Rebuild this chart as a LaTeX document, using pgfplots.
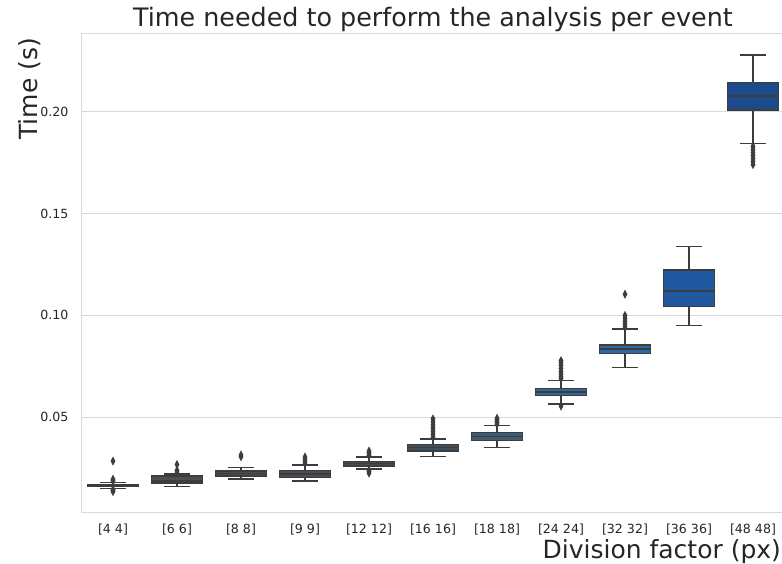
\documentclass[border=0pt]{standalone}
\usepackage{pgfplots}
\pgfplotsset{compat=1.18}
\usepgfplotslibrary{statistics}
\usepackage{fontspec}
\setmainfont{DejaVu Sans}
\definecolor{gridc}{HTML}{D9D9D9}
\definecolor{textc}{HTML}{262626}
\definecolor{linec}{HTML}{3D3D3D}
\definecolor{c0}{HTML}{505050}
\definecolor{c1}{HTML}{4E4F51}
\definecolor{c2}{HTML}{4A4D50}
\definecolor{c3}{HTML}{474D53}
\definecolor{c4}{HTML}{444B52}
\definecolor{c5}{HTML}{3F505F}
\definecolor{c6}{HTML}{3D5C76}
\definecolor{c7}{HTML}{346899}
\definecolor{c8}{HTML}{2C68A5}
\definecolor{c9}{HTML}{2159A0}
\definecolor{c10}{HTML}{1C4A8C}
\pgfplotsset{bx/.style={draw=linec, line width=0.75pt, solid, mark=diamond*, mark size=2pt,
  mark options={fill=linec, draw=linec, xscale=0.7, line width=0.25pt, solid},
  boxplot/draw direction=y, boxplot/box extend=0.8, boxplot/whisker extend=0.4}}
\begin{document}
\begin{tikzpicture}
\begin{axis}[
  name=ax,
  scale only axis, width=352pt, height=239.5pt,
  xmin=-0.5, xmax=10.5, ymin=0.0035, ymax=0.2386,
  xtick={0,1,2,3,4,5,6,7,8,9,10},
  xticklabels={{[4 4]},{[6 6]},{[8 8]},{[9 9]},{[12 12]},{[16 16]},{[18 18]},{[24 24]},{[32 32]},{[36 36]},{[48 48]}},
  ytick={0.05,0.10,0.15,0.20},
  yticklabels={0.05,0.10,0.15,0.20},
  ymajorgrids, grid style={color=gridc, line width=0.5pt},
  axis line style={color=gridc, line width=0.5pt},
  major tick length=0pt,
  tick label style={font=\fontsize{6.3}{7.5}\selectfont, text=textc},
  yticklabel style={xshift=-2.8pt},
  xticklabel style={yshift=-2.5pt},
  title={Time needed to perform the analysis per event},
  title style={at={(0.5,1)}, anchor=base, yshift=-2.5pt, font=\fontsize{12.7}{15}\selectfont, text=textc},
  xlabel={Division factor (px)},
  xlabel style={at={([xshift=353.5pt,yshift=-23pt]rel axis cs:0,0)}, anchor=base east, font=\fontsize{12.5}{15}\selectfont, text=textc},
  ylabel={Time (s)},
  ylabel style={at={([xshift=-22pt,yshift=1pt]rel axis cs:0,1)}, anchor=base east, font=\fontsize{12.5}{15}\selectfont, text=textc},
]
\addplot[bx, fill=c0, boxplot prepared={draw position=0, lower whisker=0.0150, lower quartile=0.0160, median=0.0164, upper quartile=0.0168, upper whisker=0.0180}]
  table[row sep=\\, y index=0] {y\\ 0.0285\\ 0.0186\\ 0.0191\\ 0.0196\\ 0.0145\\ 0.0140\\ 0.0135\\};
\addplot[bx, fill=c1, boxplot prepared={draw position=1, lower whisker=0.0160, lower quartile=0.0177, median=0.0187, upper quartile=0.0212, upper whisker=0.0222}]
  table[row sep=\\, y index=0] {y\\ 0.0268\\ 0.0232\\ 0.0240\\};
\addplot[bx, fill=c2, boxplot prepared={draw position=2, lower whisker=0.0197, lower quartile=0.0212, median=0.0225, upper quartile=0.0237, upper whisker=0.0253}]
  table[row sep=\\, y index=0] {y\\ 0.0315\\ 0.0306\\};
\addplot[bx, fill=c3, boxplot prepared={draw position=3, lower whisker=0.0187, lower quartile=0.0205, median=0.0222, upper quartile=0.0238, upper whisker=0.0266}]
  table[row sep=\\, y index=0] {y\\ 0.0276\\ 0.0285\\ 0.0295\\ 0.0305\\};
\addplot[bx, fill=c4, boxplot prepared={draw position=4, lower whisker=0.0246, lower quartile=0.0261, median=0.0272, upper quartile=0.0282, upper whisker=0.0304}]
  table[row sep=\\, y index=0] {y\\ 0.0313\\ 0.0320\\ 0.0327\\ 0.0334\\ 0.0240\\ 0.0233\\ 0.0226\\};
\addplot[bx, fill=c5, boxplot prepared={draw position=5, lower whisker=0.0307, lower quartile=0.0335, median=0.0351, upper quartile=0.0367, upper whisker=0.0393}]
  table[row sep=\\, y index=0] {y\\ 0.0402\\ 0.0415\\ 0.0428\\ 0.0440\\ 0.0452\\ 0.0465\\ 0.0478\\ 0.0492\\};
\addplot[bx, fill=c6, boxplot prepared={draw position=6, lower whisker=0.0351, lower quartile=0.0385, median=0.0405, upper quartile=0.0424, upper whisker=0.0459}]
  table[row sep=\\, y index=0] {y\\ 0.0466\\ 0.0473\\ 0.0480\\ 0.0488\\ 0.0495\\};
\addplot[bx, fill=c7, boxplot prepared={draw position=7, lower whisker=0.0565, lower quartile=0.0606, median=0.0624, upper quartile=0.0642, upper whisker=0.0680}]
  table[row sep=\\, y index=0] {y\\ 0.0690\\ 0.0700\\ 0.0712\\ 0.0725\\ 0.0740\\ 0.0755\\ 0.0768\\ 0.0778\\ 0.0555\\};
\addplot[bx, fill=c8, boxplot prepared={draw position=8, lower whisker=0.0745, lower quartile=0.0814, median=0.0835, upper quartile=0.0855, upper whisker=0.0932}]
  table[row sep=\\, y index=0] {y\\ 0.0945\\ 0.0958\\ 0.0972\\ 0.0986\\ 0.1000\\ 0.1104\\};
\addplot[bx, fill=c9, boxplot prepared={draw position=9, lower whisker=0.0950, lower quartile=0.1043, median=0.1120, upper quartile=0.1223, upper whisker=0.1338}]
  coordinates {};
\addplot[bx, fill=c10, boxplot prepared={draw position=10, lower whisker=0.1843, lower quartile=0.2009, median=0.2077, upper quartile=0.2143, upper whisker=0.2279}]
  table[row sep=\\, y index=0] {y\\ 0.1830\\ 0.1815\\ 0.1800\\ 0.1785\\ 0.1770\\ 0.1755\\ 0.1740\\};
\end{axis}
\pgfresetboundingbox
\path[use as bounding box] ([xshift=-40.5pt,yshift=-25.5pt]ax.south west) rectangle ([xshift=350.5pt,yshift=16.5pt]ax.north west);
\end{tikzpicture}
\end{document}
